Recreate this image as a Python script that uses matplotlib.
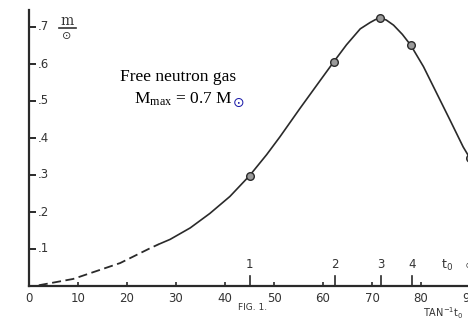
import matplotlib
matplotlib.use("Agg")
import matplotlib.pyplot as plt

# Data (x = tan^-1 t0 in degrees, y = m / M_sun)
dash_x = [2, 9, 18.6, 24.7, 26.5]
dash_y = [0.002, 0.019, 0.062, 0.102, 0.113]
solid_x = [26.5, 28.8, 32.9, 36.9, 41.0, 45.0, 48.5, 51.2, 55.3, 59.4, 62.2, 64.8,
           67.6, 69.6, 70.7, 71.7, 72.9, 74.4, 76.2, 77.9, 80.5, 83.2, 85.9, 88.6, 90.0]
solid_y = [0.113, 0.126, 0.157, 0.196, 0.242, 0.298, 0.355, 0.403, 0.480, 0.555, 0.606, 0.652,
           0.695, 0.712, 0.720, 0.724, 0.719, 0.705, 0.680, 0.651, 0.593, 0.521, 0.449, 0.376, 0.345]
pts_x = [45.0, 62.2, 71.7, 77.9, 90.0]
pts_y = [0.298, 0.606, 0.724, 0.651, 0.345]
t0_labels = ["1", "2", "3", "4"]
t0_pos = [45.0, 62.4, 71.8, 78.2]
xticks = [0, 10, 20, 30, 40, 50, 60, 70, 80, 90]
yticks = [0.1, 0.2, 0.3, 0.4, 0.5, 0.6, 0.7]
ytick_labels = [".1", ".2", ".3", ".4", ".5", ".6", ".7"]

W, H = 468, 322
fig = plt.figure(figsize=(W / 100, H / 100), dpi=100)
fig.patch.set_facecolor("white")

x0px, x90px = 29, 470
y0px, y7px = 286, 27
ppx = (x90px - x0px) / 90.0
ppy = (y0px - y7px) / 0.7
ytop = 0.75
ax = fig.add_axes([x0px / W, (H - y0px) / H, (x90px - x0px) / W, (ytop * ppy) / H])
ax.set_xlim(0, 90)
ax.set_ylim(0, ytop)
ax.patch.set_alpha(0)

ink = "#2a2a2a"
for s in ["top", "right"]:
    ax.spines[s].set_visible(False)
for s in ["left", "bottom"]:
    ax.spines[s].set_color(ink)
    ax.spines[s].set_linewidth(1.6)
ax.spines["left"].set_bounds(0, 0.745)

ax.plot(dash_x, dash_y, color=ink, lw=1.3, dashes=(5, 2.5), clip_on=False)
ax.plot(solid_x, solid_y, color=ink, lw=1.2, clip_on=False,
        solid_joinstyle="round", solid_capstyle="round")
ax.plot(pts_x, pts_y, "o", ms=5.5, mfc="#9a9a9a", mec=ink, mew=1.0, clip_on=False)

ax.set_xticks(xticks)
ax.set_xticklabels([str(v) for v in xticks])
ax.set_yticks(yticks)
ax.set_yticklabels([])
ax.tick_params(axis="x", direction="in", length=3, width=1.2, color=ink,
               labelsize=8.5, labelcolor="#333333", pad=4)
ax.tick_params(axis="y", direction="in", length=5, width=1.4, color=ink)
for lab in ax.get_xticklabels():
    lab.set_clip_on(False)

for v, lab in zip(yticks, ytick_labels):
    ax.text(1.8, v, lab, ha="left", va="center", fontsize=8.5, color="#333333")

# t0 ticks and labels
for p, lab in zip(t0_pos, t0_labels):
    ax.plot([p, p], [0, 10 / ppy], color=ink, lw=1.2, clip_on=False)
    ax.text(p, 21 / ppy, lab, ha="center", va="center", fontsize=8.5, color="#333333")
ax.text(85.3, 21 / ppy, "t$_0$", ha="center", va="center", fontsize=9, color="#333333")
ax.text(90.0, 21 / ppy, "\u221e", ha="center", va="center", fontsize=9, color="#333333")

# m / sun label
fig.text(67 / W, 1 - 21 / H, "m", ha="center", va="center", fontsize=10, color="#333333",
         family="DejaVu Serif")
fig.add_artist(plt.Line2D([59 / W, 76 / W], [1 - 28 / H, 1 - 28 / H], color="#333333", lw=1.2))
fig.text(67 / W, 1 - 36 / H, "\u2299", ha="center", va="center", fontsize=8, color="#333333")

fig.text(253 / W, 1 - 307 / H, "FIG. 1.", ha="center", va="center", fontsize=6.5, color="#333333")
fig.text(423 / W, 1 - 313 / H, "TAN$^{-1}$t$_0$", ha="left", va="center", fontsize=7, color="#333333")

plt.rcParams["mathtext.fontset"] = "custom"
plt.rcParams["mathtext.rm"] = "Liberation Serif"
plt.rcParams["mathtext.it"] = "Liberation Serif:italic"
fig.text(178 / W, 1 - 77 / H, "Free neutron gas", ha="center", va="center",
         fontsize=12.5, family="Liberation Serif", color="black")
t2 = fig.text(134 / W, 1 - 99 / H, r"M$_{\mathrm{max}}$ = 0.7 M", ha="left", va="center",
              fontsize=12.5, family="Liberation Serif", color="black")
ax.annotate("\u2299", xy=(1, 0.25), xycoords=t2, ha="left", va="center",
            fontsize=10, color="#1a1aa8", xytext=(0.5, 0), textcoords="offset points",
            annotation_clip=False)

fig.savefig("out.png", dpi=100)
